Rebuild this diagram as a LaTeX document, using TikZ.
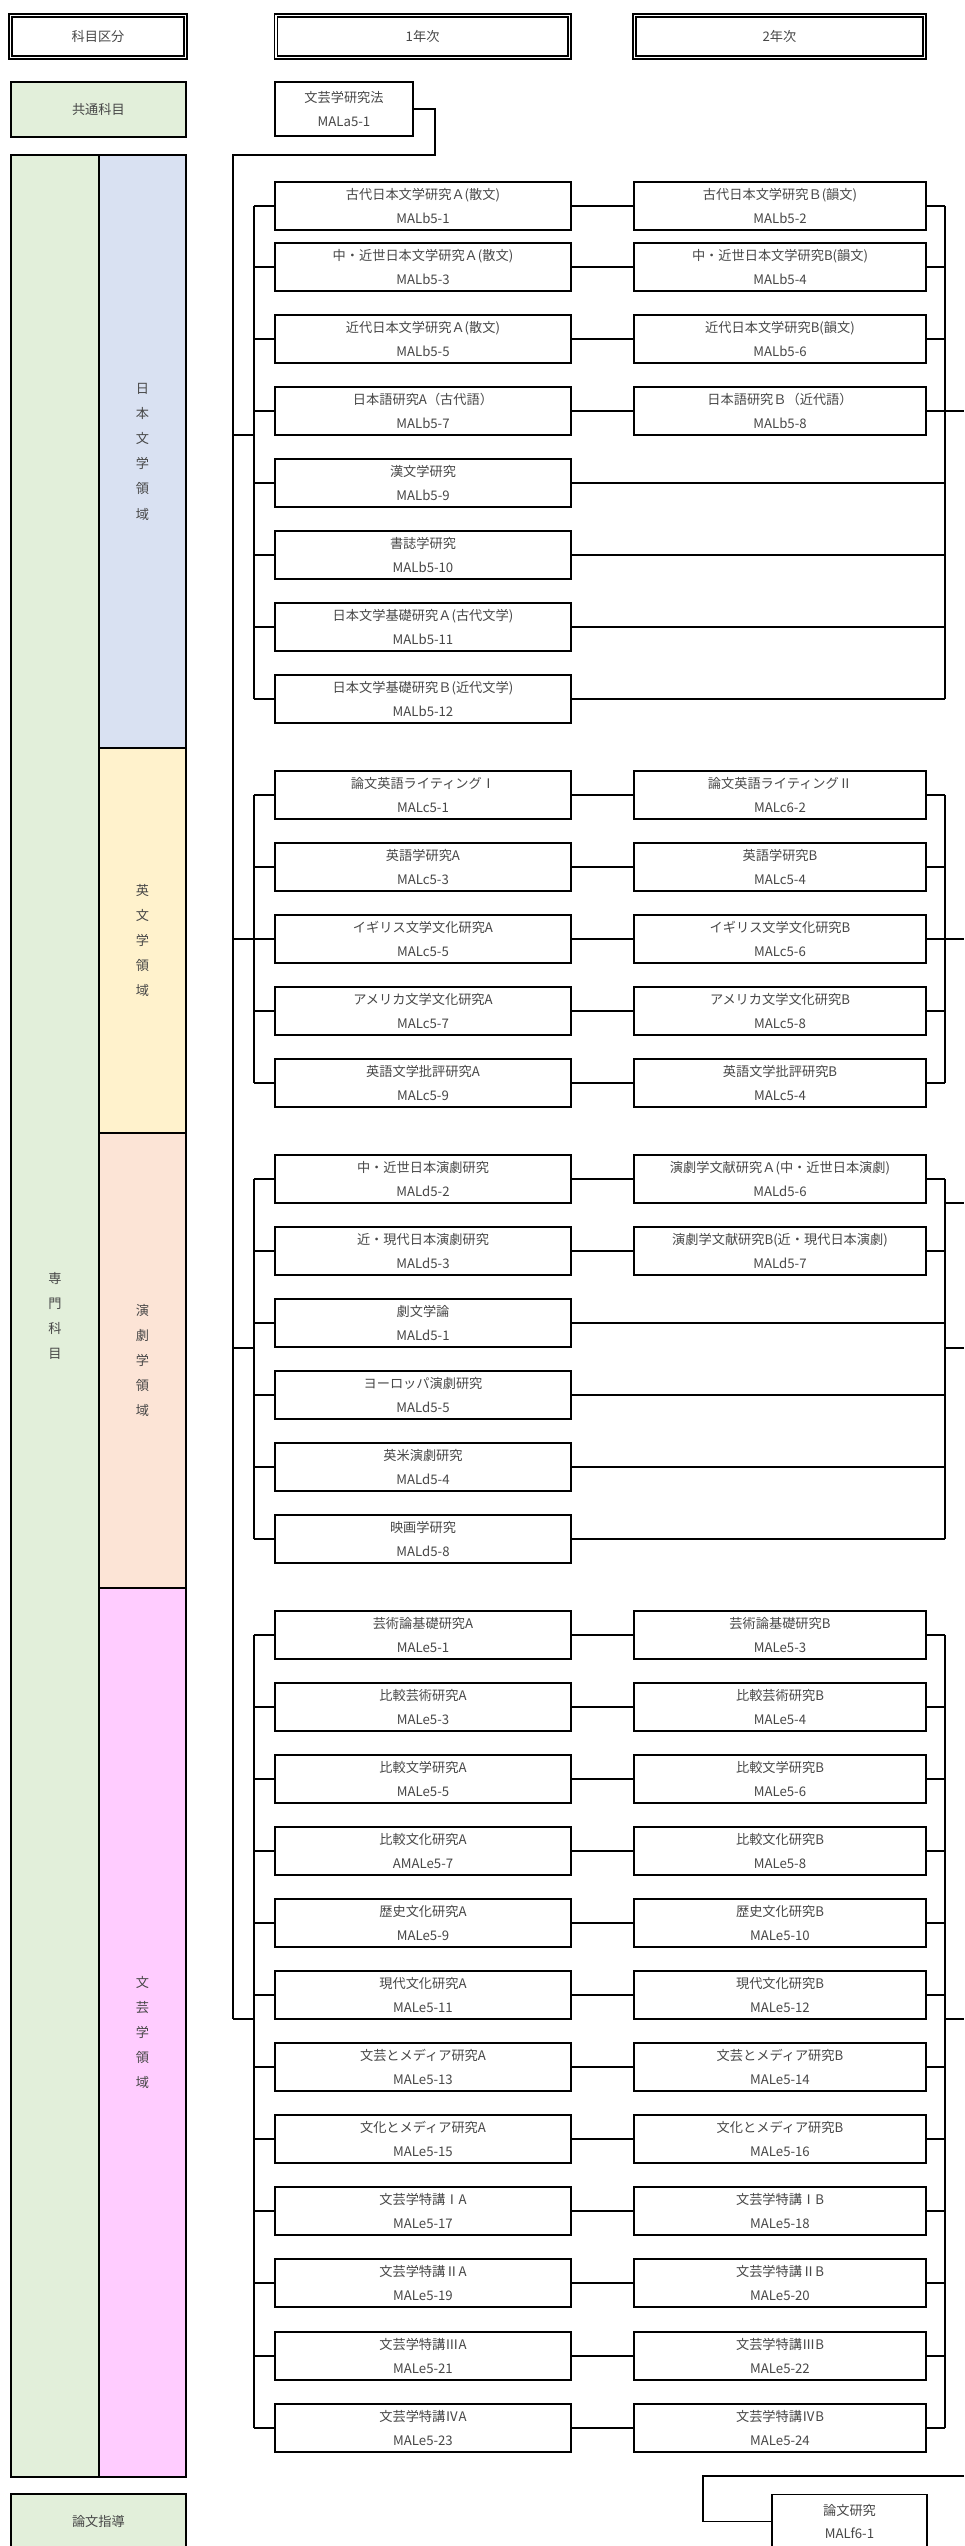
\documentclass[tikz,border=0pt]{standalone}
\usepackage{fontspec}
\newfontfamily\jp{Noto Sans CJK JP}
\definecolor{cgreen}{HTML}{E2EFDA}
\definecolor{cblue}{HTML}{D9E1F2}
\definecolor{cyellow}{HTML}{FFF2CC}
\definecolor{cpeach}{HTML}{FCE4D6}
\definecolor{cpink}{HTML}{FFCCFF}
\tikzset{
  txt/.style={font=\jp\fontsize{6.6pt}{11.75pt}\selectfont, text=black!72, align=center, inner sep=0pt},
  cbox/.style={txt, draw=black, line width=0.8pt, fill=white, minimum height=24pt},
  hdr/.style={txt, draw=black, double, line width=0.75pt, double distance=0.8pt, fill=white, minimum height=21.1pt},
  colbox/.style={txt, draw=black, line width=0.85pt, font=\jp\fontsize{6.6pt}{12.6pt}\selectfont},
  conn/.style={draw=black, line width=0.85pt}
}
\newcommand\crow[6]{%
  \node[cbox, minimum width=148pt] (#1a) at (423,#2) {#3\\#4};
  \node[cbox, minimum width=146pt] (#1b) at (780,#2) {#5\\#6};
  \draw[conn] (#1a.east) -- (#1b.west);
  \draw[conn] (#1a.west) -- (#1a.west -| Lx);
  \draw[conn] (#1b.east) -- (#1b.east -| Rx);
}
\newcommand\srow[4]{%
  \node[cbox, minimum width=148pt] (#1a) at (423,#2) {#3\\#4};
  \draw[conn] (#1a.west) -- (#1a.west -| Lx);
  \draw[conn] (#1a.east) -- (#1a.east -| Rx);
}
\begin{document}
\begin{tikzpicture}[x=0.5pt,y=-0.5pt]
\useasboundingbox (0,0) rectangle (964,2546);
\fill[white] (0,0) rectangle (964,2546);
\coordinate (Lx) at (254,0);
\coordinate (Rx) at (945,0);

% headers
\node[hdr, minimum width=87.6pt] (hk) at (98,36.5) {科目区分};
\node[hdr, minimum width=146.7pt] (h1) at (422.6,36.5) {1年次};
\node[hdr, minimum width=145.1pt] (h2) at (779.5,36.5) {2年次};

% left column
\node[colbox, fill=cgreen, minimum width=87.6pt, minimum height=27.5pt] (kyotsu) at (98.4,109.5) {共通科目};
\node[colbox, fill=cgreen, minimum width=44.2pt, minimum height=1161pt] (senmon) at (54.9,1316) {専\\門\\科\\目};
\node[colbox, fill=cblue, minimum width=43.4pt, minimum height=296.5pt] (dnj) at (142.4,451.5) {日\\本\\文\\学\\領\\域};
\node[colbox, fill=cyellow, minimum width=43.4pt, minimum height=192.5pt] (dne) at (142.4,940.5) {英\\文\\学\\領\\域};
\node[colbox, fill=cpeach, minimum width=43.4pt, minimum height=227.5pt] (dnd) at (142.4,1360.5) {演\\劇\\学\\領\\域};
\node[colbox, fill=cpink, minimum width=43.4pt, minimum height=444.5pt] (dnb) at (142.4,2032.5) {文\\芸\\学\\領\\域};
\node[colbox, fill=cgreen, minimum width=87.6pt, minimum height=27pt] (ronshi) at (98.4,2521) {論文指導};

% common course
\node[cbox, minimum width=69pt, minimum height=27pt] (law) at (344,109) {文芸学研究法\\MALa5-1};
\coordinate (t1) at (435,155);
\coordinate (Otop) at (233,155);
\coordinate (Obot) at (233,2019);
\draw[conn] (law.east) -| (t1) -- (Otop) -- (Obot);

% Japanese literature
\crow{j1}{206}{古代日本文学研究Ａ(散文)}{MALb5-1}{古代日本文学研究Ｂ(韻文)}{MALb5-2}
\crow{j2}{267}{中・近世日本文学研究Ａ(散文)}{MALb5-3}{中・近世日本文学研究B(韻文)}{MALb5-4}
\crow{j3}{339}{近代日本文学研究Ａ(散文)}{MALb5-5}{近代日本文学研究B(韻文)}{MALb5-6}
\crow{j4}{411}{日本語研究A（古代語）}{MALb5-7}{日本語研究Ｂ（近代語）}{MALb5-8}
\srow{j5}{483}{漢文学研究}{MALb5-9}
\srow{j6}{555}{書誌学研究}{MALb5-10}
\srow{j7}{627}{日本文学基礎研究Ａ(古代文学)}{MALb5-11}
\srow{j8}{699}{日本文学基礎研究Ｂ(近代文学)}{MALb5-12}
\draw[conn] (j1a.west -| Lx) -- (j8a.west -| Lx);
\draw[conn] (j1b.east -| Rx) -- (j8a.east -| Rx);
\coordinate (jbr) at (233,435);
\draw[conn] (jbr) -- (jbr -| Lx);
\coordinate (jout) at (964,411);
\draw[conn] (jout -| Rx) -- (jout);

% English literature
\crow{e1}{795}{論文英語ライティングⅠ}{MALc5-1}{論文英語ライティングⅡ}{MALc6-2}
\crow{e2}{867}{英語学研究A}{MALc5-3}{英語学研究B}{MALc5-4}
\crow{e3}{939}{イギリス文学文化研究A}{MALc5-5}{イギリス文学文化研究B}{MALc5-6}
\crow{e4}{1011}{アメリカ文学文化研究A}{MALc5-7}{アメリカ文学文化研究B}{MALc5-8}
\crow{e5}{1083}{英語文学批評研究A}{MALc5-9}{英語文学批評研究B}{MALc5-4}
\draw[conn] (e1a.west -| Lx) -- (e5a.west -| Lx);
\draw[conn] (e1b.east -| Rx) -- (e5b.east -| Rx);
\coordinate (ebr) at (233,939);
\draw[conn] (ebr) -- (ebr -| Lx);
\coordinate (eout) at (964,939);
\draw[conn] (eout -| Rx) -- (eout);

% Theatre
\crow{d1}{1179}{中・近世日本演劇研究}{MALd5-2}{演劇学文献研究Ａ(中・近世日本演劇)}{MALd5-6}
\crow{d2}{1251}{近・現代日本演劇研究}{MALd5-3}{演劇学文献研究B(近・現代日本演劇)}{MALd5-7}
\srow{d3}{1323}{劇文学論}{MALd5-1}
\srow{d4}{1395}{ヨーロッパ演劇研究}{MALd5-5}
\srow{d5}{1467}{英米演劇研究}{MALd5-4}
\srow{d6}{1539}{映画学研究}{MALd5-8}
\draw[conn] (d1a.west -| Lx) -- (d6a.west -| Lx);
\draw[conn] (d1b.east -| Rx) -- (d6a.east -| Rx);
\coordinate (dbr) at (233,1348);
\draw[conn] (dbr) -- (dbr -| Lx);
\coordinate (dout1) at (964,1203);
\coordinate (dout2) at (964,1348);
\draw[conn] (dout1 -| Rx) -- (dout1);
\draw[conn] (dout2 -| Rx) -- (dout2);

% Literary arts
\crow{b1}{1635}{芸術論基礎研究A}{MALe5-1}{芸術論基礎研究B}{MALe5-3}
\crow{b2}{1707}{比較芸術研究A}{MALe5-3}{比較芸術研究B}{MALe5-4}
\crow{b3}{1779}{比較文学研究A}{MALe5-5}{比較文学研究B}{MALe5-6}
\crow{b4}{1851}{比較文化研究A}{AMALe5-7}{比較文化研究B}{MALe5-8}
\crow{b5}{1923}{歴史文化研究A}{MALe5-9}{歴史文化研究B}{MALe5-10}
\crow{b6}{1995}{現代文化研究A}{MALe5-11}{現代文化研究B}{MALe5-12}
\crow{b7}{2067}{文芸とメディア研究A}{MALe5-13}{文芸とメディア研究B}{MALe5-14}
\crow{b8}{2139}{文化とメディア研究A}{MALe5-15}{文化とメディア研究B}{MALe5-16}
\crow{b9}{2211}{文芸学特講ⅠA}{MALe5-17}{文芸学特講ⅠB}{MALe5-18}
\crow{b10}{2283}{文芸学特講ⅡA}{MALe5-19}{文芸学特講ⅡB}{MALe5-20}
\crow{b11}{2356}{文芸学特講ⅢA}{MALe5-21}{文芸学特講ⅢB}{MALe5-22}
\crow{b12}{2428}{文芸学特講ⅣA}{MALe5-23}{文芸学特講ⅣB}{MALe5-24}
\draw[conn] (b1a.west -| Lx) -- (b12a.west -| Lx);
\draw[conn] (b1b.east -| Rx) -- (b12b.east -| Rx);
\draw[conn] (Obot) -- (Obot -| Lx);
\coordinate (bout) at (964,2019);
\draw[conn] (bout -| Rx) -- (bout);

% thesis
\node[cbox, minimum width=77.5pt, minimum height=27pt] (thesis) at (849.5,2521.5) {論文研究\\MALf6-1};
\coordinate (thr) at (964,2476);
\coordinate (thk) at (703,2476);
\draw[conn] (thr) -- (thk) |- (thesis.west);
\end{tikzpicture}
\end{document}
